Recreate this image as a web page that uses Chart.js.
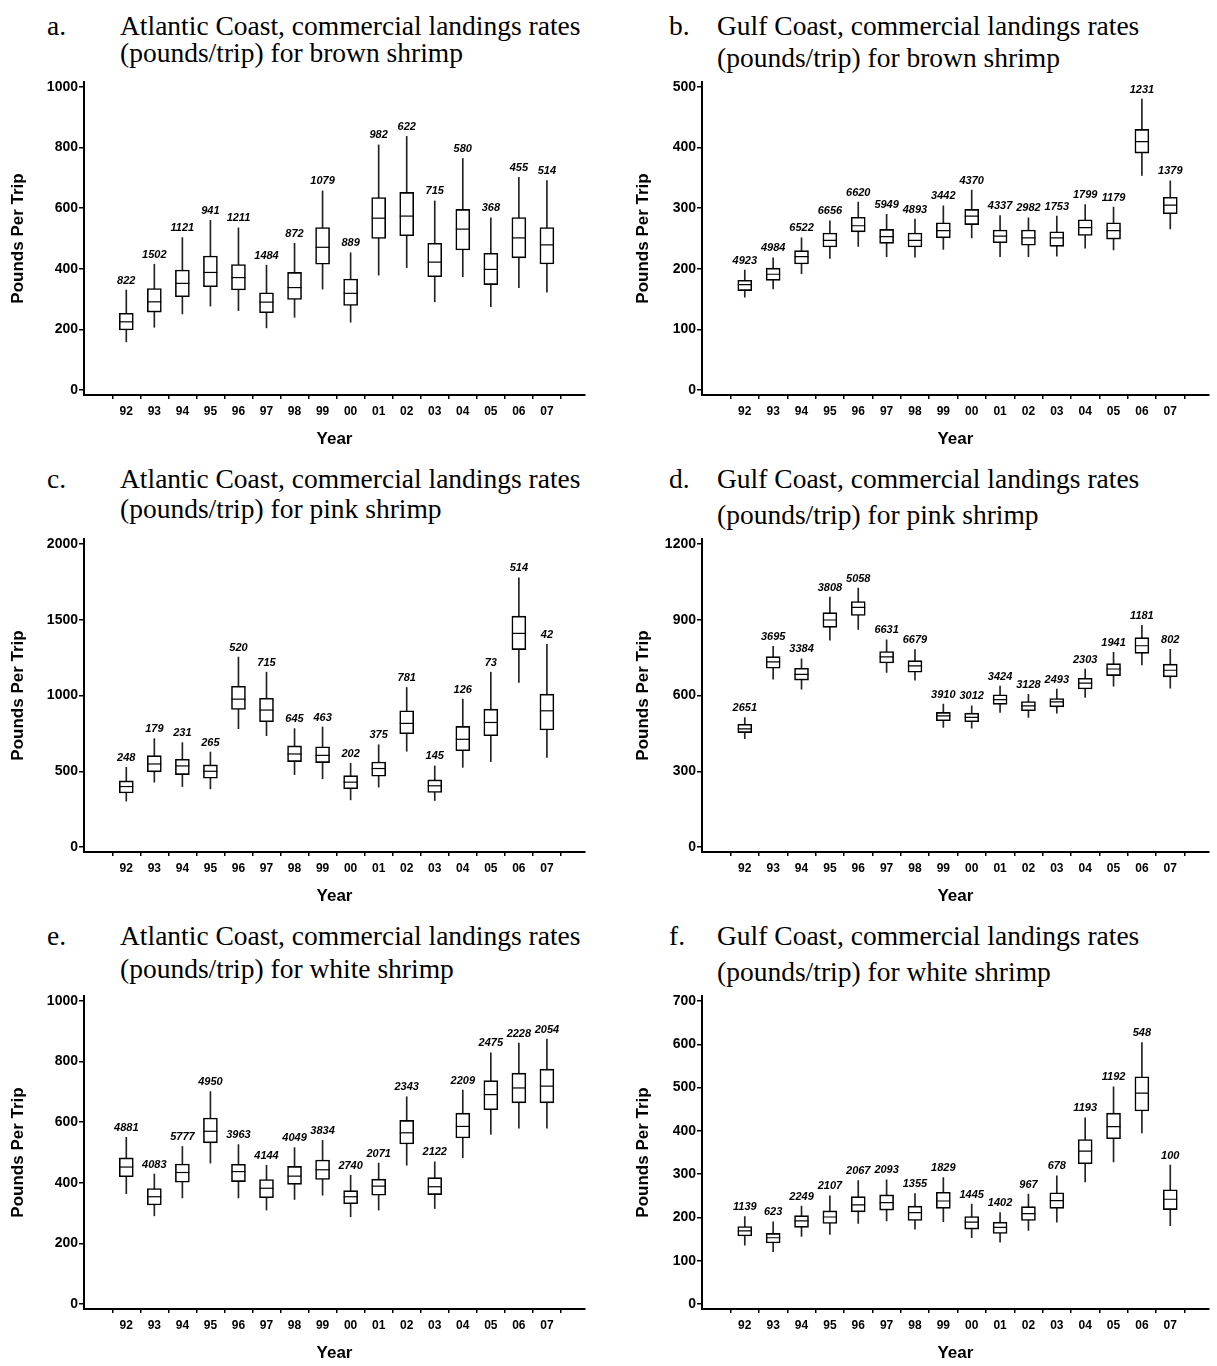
<!DOCTYPE html>
<html>
<head>
<meta charset="utf-8">
<script src="https://cdn.jsdelivr.net/npm/chart.js@4"></script>
<style>
  body { margin: 0; background: #fff; width: 1217px; height: 1366px; position: relative; overflow: hidden; }
  .t { position: absolute; font-family: "Liberation Serif", "Times New Roman", serif; font-size: 27.5px; color: #000; white-space: nowrap; }
  .t span { position: absolute; }
  canvas { position: absolute; }
</style>
</head>
<body>
<!-- panel titles -->
<div class="t" style="left:47px;top:0px"><span style="top:10px">a.</span><span style="left:73px;top:10px">Atlantic Coast, commercial landings rates</span><span style="left:73px;top:37px">(pounds/trip) for brown shrimp</span></div>
<div class="t" style="left:669px;top:0px"><span style="top:10px">b.</span><span style="left:48px;top:10px">Gulf Coast, commercial landings rates</span><span style="left:48px;top:42px">(pounds/trip) for brown shrimp</span></div>
<div class="t" style="left:47px;top:0px"><span style="top:463px">c.</span><span style="left:73px;top:463px">Atlantic Coast, commercial landings rates</span><span style="left:73px;top:493px">(pounds/trip) for pink shrimp</span></div>
<div class="t" style="left:669px;top:0px"><span style="top:463px">d.</span><span style="left:48px;top:463px">Gulf Coast, commercial landings rates</span><span style="left:48px;top:499px">(pounds/trip) for pink shrimp</span></div>
<div class="t" style="left:47px;top:0px"><span style="top:920px">e.</span><span style="left:73px;top:920px">Atlantic Coast, commercial landings rates</span><span style="left:73px;top:953px">(pounds/trip) for white shrimp</span></div>
<div class="t" style="left:669px;top:0px"><span style="top:920px">f.</span><span style="left:48px;top:920px">Gulf Coast, commercial landings rates</span><span style="left:48px;top:956px">(pounds/trip) for white shrimp</span></div>

<canvas id="ca" width="600" height="390" style="left:0px;top:70px"></canvas>
<canvas id="cb" width="609" height="390" style="left:608px;top:70px"></canvas>
<canvas id="cc" width="600" height="390" style="left:0px;top:527px"></canvas>
<canvas id="cd" width="609" height="390" style="left:608px;top:527px"></canvas>
<canvas id="ce" width="600" height="390" style="left:0px;top:984px"></canvas>
<canvas id="cf" width="609" height="390" style="left:608px;top:984px"></canvas>

<script>
const years = ['92','93','94','95','96','97','98','99','00','01','02','03','04','05','06','07'];

// a. Atlantic, brown shrimp
const aLow  = [159,207,251,277,262,205,240,333,224,379,404,291,374,275,338,323];
const aQ1   = [198,257,308,341,330,255,299,415,279,500,509,374,462,348,436,416];
const aMed  = [225,291,352,388,371,290,338,471,319,567,574,422,531,398,502,479];
const aQ3   = [253,335,396,442,414,321,388,536,366,635,652,484,596,451,569,536];
const aHigh = [330,415,503,560,535,412,484,657,453,809,837,624,764,568,702,691];
const aN    = [822,1502,1121,941,1211,1484,872,1079,889,982,622,715,580,368,455,514];
const aTicks = [0,200,400,600,800,1000];

// b. Gulf, brown shrimp
const bLow  = [153,167,192,217,237,220,219,232,251,220,220,221,234,231,354,266];
const bQ1   = [164,181,208,236,261,242,236,251,273,243,239,237,255,249,391,291];
const bMed  = [174,191,220,247,271,253,247,263,287,254,251,251,268,263,410,305];
const bQ3   = [181,201,230,259,285,265,259,276,298,264,264,261,281,276,430,318];
const bHigh = [198,218,251,279,310,290,282,304,330,288,284,287,306,302,480,345];
const bN    = [4923,4984,6522,6656,6620,5949,4893,3442,4370,4337,2982,1753,1799,1179,1231,1379];
const bTicks = [0,100,200,300,400,500];

// c. Atlantic, pink shrimp
const cLow  = [303,428,399,384,781,735,478,450,311,395,632,307,526,564,1086,592];
const cQ1   = [357,496,478,454,908,827,564,557,384,467,748,360,636,735,1303,772];
const cMed  = [399,548,535,500,976,904,614,605,428,518,816,404,711,822,1410,899];
const cQ3   = [436,603,579,542,1061,982,667,662,471,561,899,443,796,910,1524,1009];
const cHigh = [526,715,689,627,1254,1154,781,792,553,675,1053,535,976,1154,1776,1338];
const cN    = [248,179,231,265,520,715,645,463,202,375,781,145,126,73,514,42];
const cTicks = [0,500,1000,1500,2000];

// d. Gulf, pink shrimp
const dLow  = [429,665,625,819,862,691,661,474,471,533,513,530,592,637,721,629];
const dQ1   = [453,708,661,870,917,729,692,500,496,565,540,555,626,679,767,674];
const dMed  = [468,733,684,899,949,753,717,519,513,584,559,575,649,705,797,700];
const dQ3   = [486,754,708,928,972,774,738,533,530,603,576,588,668,726,829,724];
const dHigh = [513,795,745,990,1025,820,782,566,559,637,605,625,705,771,878,783];
const dN    = [2651,3695,3384,3808,5058,6631,6679,3910,3012,3424,3128,2493,2303,1941,1181,802];
const dTicks = [0,300,600,900,1200];

// e. Atlantic, white shrimp
const eLow  = [364,291,350,465,350,310,345,359,288,310,458,315,483,560,580,580];
const eQ1   = [420,327,402,532,404,351,395,411,331,359,528,361,548,641,664,664];
const eMed  = [452,354,434,570,437,382,422,443,354,389,565,387,586,691,713,719];
const eQ3   = [482,381,462,614,461,411,454,475,374,412,606,417,630,737,762,775];
const eHigh = [550,429,520,701,526,458,516,540,425,465,684,469,706,829,861,874];
const eN    = [4881,4083,5777,4950,3963,4144,4049,3834,2740,2071,2343,2122,2209,2475,2228,2054];
const eTicks = [0,200,400,600,800,1000];

// f. Gulf, white shrimp
const fLow  = [136,121,156,161,186,192,173,190,153,143,170,189,282,328,395,181];
const fQ1   = [157,141,177,186,213,217,193,221,173,163,193,221,324,382,446,218];
const fMed  = [169,153,192,201,229,234,211,238,189,177,209,239,353,410,487,242];
const fQ3   = [179,163,204,215,248,252,226,258,202,189,225,257,380,441,525,264];
const fHigh = [202,190,226,250,285,287,255,292,231,211,254,296,430,502,604,321];
const fN    = [1139,623,2249,2107,2067,2093,1355,1829,1445,1402,967,678,1193,1192,548,100];
const fTicks = [0,100,200,300,400,500,600,700];

Chart.defaults.font.family = '"Liberation Sans", Arial, sans-serif';
Chart.defaults.color = '#000';

// trip counts above each whisker
function countLabels(n, high) {
  return {
    id: 'countLabels',
    afterDatasetsDraw(chart) {
      const { ctx, scales: { x, y } } = chart;
      ctx.save();
      ctx.font = 'italic bold 11px "Liberation Sans", Arial, sans-serif';
      ctx.textAlign = 'center';
      ctx.textBaseline = 'bottom';
      ctx.fillStyle = '#000';
      n.forEach((v, i) => {
        ctx.fillText(String(v), x.getPixelForValue(i), y.getPixelForValue(high[i]) - 4);
      });
      ctx.restore();
    }
  };
}

function boxChart(id, low, q1, med, q3, high, n, ticks, right) {
  const top = ticks[ticks.length - 1];
  const idx = years.map((_, i) => i);
  new Chart(document.getElementById(id), {
    type: 'bar',
    data: {
      datasets: [
        { // median
          type: 'line',
          data: idx.map(i => ({ x: i, y: med[i] })),
          showLine: false,
          pointStyle: 'line',
          pointRadius: 7,
          borderColor: '#000',
          borderWidth: 1.2
        },
        { // box
          data: idx.map(i => ({ x: i, y: [q1[i], q3[i]] })),
          backgroundColor: '#fff',
          borderColor: '#000',
          borderWidth: 1.6,
          borderSkipped: false,
          barThickness: 14,
          grouped: false
        },
        { // whisker
          data: idx.map(i => ({ x: i, y: [low[i], high[i]] })),
          backgroundColor: '#222',
          borderWidth: 0,
          barThickness: 1,
          grouped: false
        }
      ]
    },
    options: {
      responsive: false,
      animation: false,
      events: [],
      layout: { padding: { left: 0, right: right ? 8 : 15, top: 12, bottom: 0 } },
      plugins: { legend: { display: false }, tooltip: { enabled: false } },
      scales: {
        x: {
          type: 'linear',
          min: -0.95,
          max: 15.8,
          afterBuildTicks: s => { s.ticks = idx.map(i => ({ value: i })); },
          afterFit: s => { s.height = 65; },
          ticks: { callback: v => years[v], font: { size: 12, weight: 'bold' }, padding: 5, maxRotation: 0, autoSkip: false },
          grid: { drawOnChartArea: false, drawTicks: true, tickLength: 4, color: '#000', lineWidth: 1.5 },
          border: { display: true, color: '#000', width: 2 },
          title: { display: true, text: 'Year', font: { size: 17, weight: 'bold' }, padding: { top: 0, bottom: 10 } }
        },
        y: {
          min: -0.0165 * top,
          max: 1.0165 * top,
          afterBuildTicks: s => { s.ticks = ticks.map(v => ({ value: v })); },
          afterFit: s => { s.width = right ? 94 : 84; },
          ticks: { callback: v => String(v), font: { size: 14, weight: 'bold' }, padding: 1 },
          grid: { drawOnChartArea: false, drawTicks: true, tickLength: 5, color: '#000', lineWidth: 1.5 },
          border: { display: true, color: '#000', width: 2 },
          title: { display: true, text: 'Pounds Per Trip', font: { size: 17, weight: 'bold' }, padding: { top: right ? 25 : 8, bottom: 0 } }
        }
      }
    },
    plugins: [countLabels(n, high)]
  });
}

boxChart('ca', aLow, aQ1, aMed, aQ3, aHigh, aN, aTicks, false);
boxChart('cb', bLow, bQ1, bMed, bQ3, bHigh, bN, bTicks, true);
boxChart('cc', cLow, cQ1, cMed, cQ3, cHigh, cN, cTicks, false);
boxChart('cd', dLow, dQ1, dMed, dQ3, dHigh, dN, dTicks, true);
boxChart('ce', eLow, eQ1, eMed, eQ3, eHigh, eN, eTicks, false);
boxChart('cf', fLow, fQ1, fMed, fQ3, fHigh, fN, fTicks, true);
</script>
</body>
</html>
